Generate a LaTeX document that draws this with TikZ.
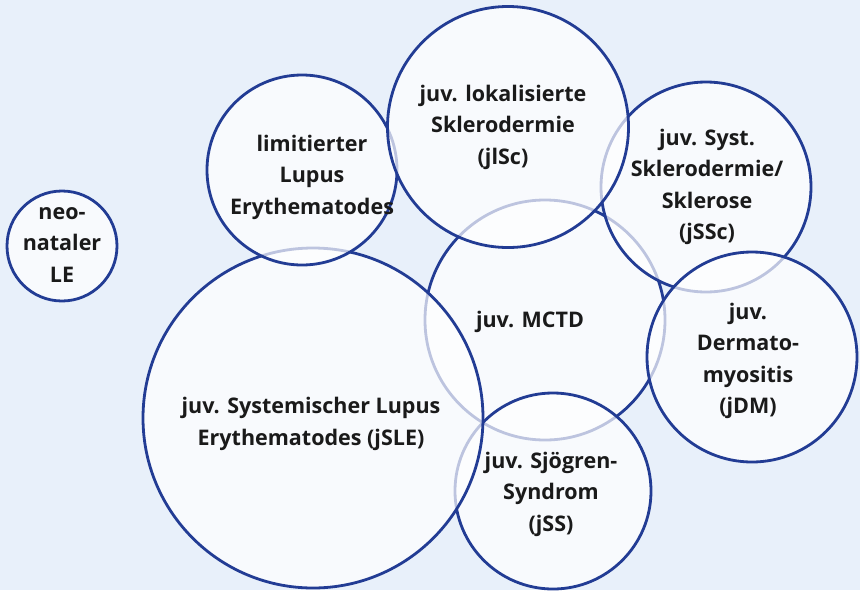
\documentclass[tikz,border=0pt]{standalone}
\usepackage{fontspec}
\setmainfont{Open Sans}
\definecolor{bgblue}{HTML}{E8F0FA}
\definecolor{navy}{HTML}{223C94}
\definecolor{txt}{HTML}{1A1A1A}
\begin{document}
\begin{tikzpicture}[x=1pt,y=-1pt,
  disc/.style={circle,draw=navy,line width=2.8pt,fill=white,fill opacity=0.7,draw opacity=1,
    inner sep=0pt,outer sep=0pt,minimum size=#1},
  lbl/.style={align=center,text=txt,font=\bfseries\fontsize{21.5}{31.5}\selectfont,inner sep=0pt}]
\fill[bgblue] (0,0) rectangle (860,590);
\useasboundingbox (0,0) rectangle (860,590);
% circles in stacking order
\node[disc=110pt] (neo) at (62,246) {};
\node[disc=240pt] (mctd) at (545,320) {};
\node[disc=196pt] (sjs) at (553,491) {};
\node[disc=340pt] (jsle) at (313,418) {};
\node[disc=190pt] (lim) at (302,170) {};
\node[disc=210pt] (jssc) at (706,187) {};
\node[disc=241pt] (jlsc) at (508,127) {};
\node[disc=210pt] (jdm) at (752,357) {};
% labels
\node[lbl] (tneo) at (62,245) {neo-\\nataler\\LE};
\node[lbl] (tlim) at (312,177) {limitierter\\Lupus\\Erythematodes};
\node[lbl] (tjlsc) at (503,127) {juv. lokalisierte\\Sklerodermie\\(jlSc)};
\node[lbl] (tjssc) at (707,187) {juv. Syst.\\Sklerodermie/\\Sklerose\\(jSSc)};
\node[lbl] (tmctd) at (530,322) {juv. MCTD};
\node[lbl] (tjdm) at (748,361) {juv.\\Dermato-\\myositis\\(jDM)};
\node[lbl] (tjsle) at (311,424) {juv. Systemischer Lupus\\Erythematodes (jSLE)};
\node[lbl] (tsjs) at (551,494) {juv. Sjögren-\\Syndrom\\(jSS)};
\end{tikzpicture}
\end{document}
